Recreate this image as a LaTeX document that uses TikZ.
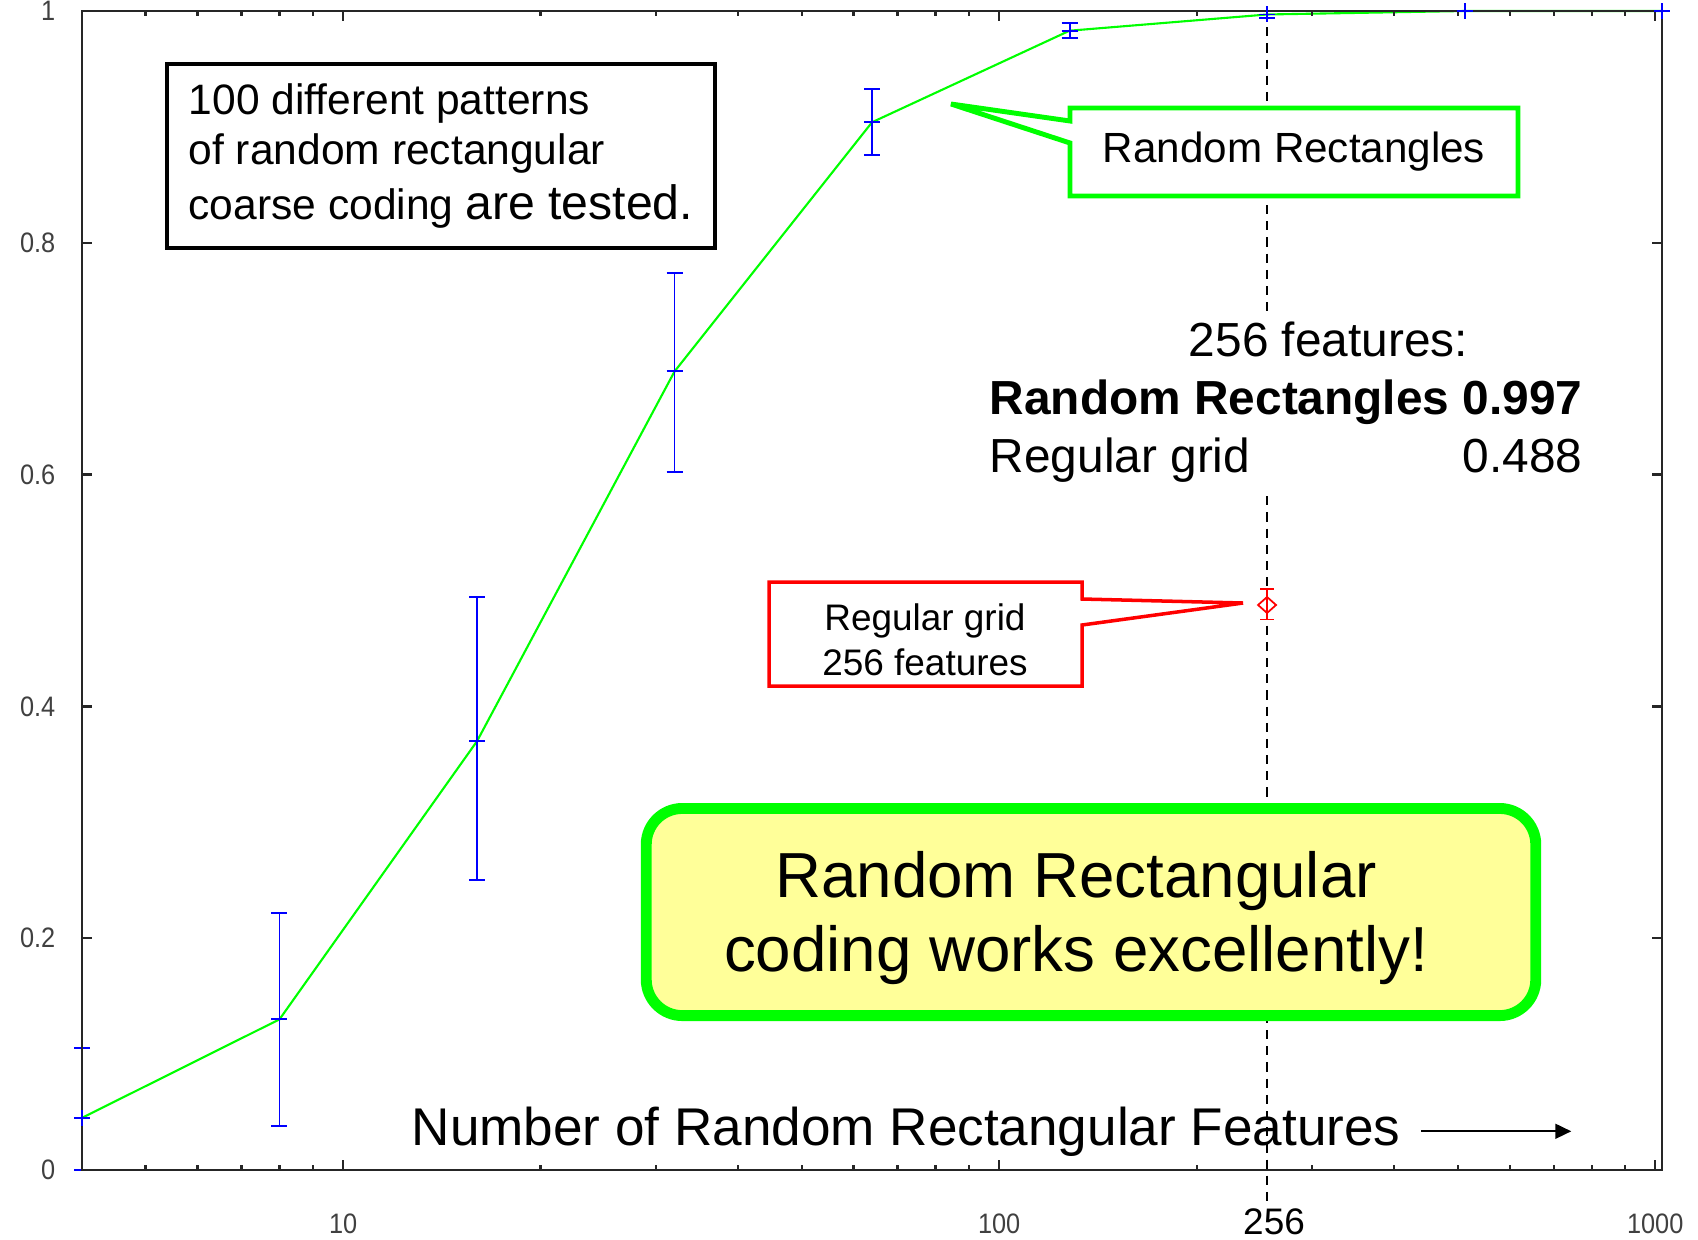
\documentclass[tikz,border=0pt]{standalone}
\usepackage{fontspec}
\setmainfont{Liberation Sans}
\newfontfamily\tickfont[FakeStretch=0.9]{Liberation Sans}
\usetikzlibrary{arrows.meta,calc}
\definecolor{plotgreen}{RGB}{0,255,0}
\definecolor{plotblue}{RGB}{0,0,255}
\definecolor{plotred}{RGB}{255,0,0}
\definecolor{notefill}{RGB}{255,255,153}

\begin{document}
\begin{tikzpicture}[x=0.01cm,y=-0.01cm,
  declare function={lx(\n)=82+284.94*ln(\n/4); vy(\v)=1170-1159*\v;},
  frameline/.style={line width=0.65pt, black!85},
  ticklabel/.style={font=\tickfont\fontsize{8}{9}\selectfont, text=black!75, inner sep=0pt},
  guide/.style={line width=0.55pt, dash pattern=on 2.6pt off 2pt},
  dataline/.style={plotgreen, line width=0.6pt},
  errbar/.style={plotblue, line width=0.55pt},
  refbar/.style={plotred, line width=0.5pt},
  notebox/.style={draw=black, line width=1pt, fill=white, minimum width=5.48cm,
    minimum height=1.84cm, inner sep=0pt,
    align=left, font=\fontsize{12.1}{14.2}\selectfont},
  callG/.style={draw=plotgreen, line width=1.4pt, fill=white},
  callR/.style={draw=plotred, line width=1pt, fill=white},
  verdictbox/.style={draw=plotgreen, line width=3.1pt, fill=notefill,
    rounded corners=0.36cm, minimum width=8.89cm, minimum height=2.07cm, inner sep=0pt},
  xarrow/.style={line width=0.5pt, -{Triangle[length=0.16cm,width=0.15cm]}}]

\useasboundingbox (0,0) rectangle (1698,1239);
\fill[white] (0,0) rectangle (1698,1239);

% vertical guide at 256 features
\draw[guide] ({lx(256)},11) -- ({lx(256)},1207);

% mean accuracy curve
\draw[dataline] ({lx(4)},{vy(0.045)}) -- ({lx(8)},{vy(0.130)}) -- ({lx(16)},{vy(0.370)})
  -- ({lx(32)},{vy(0.689)}) -- ({lx(64)},{vy(0.904)}) -- ({lx(128)},{vy(0.983)})
  -- ({lx(256)},{vy(0.997)}) -- ({lx(512)},{vy(1)}) -- ({lx(1024)},{vy(1)});

% error bars
\foreach \n/\lo/\hi in {4/0/0.105, 8/0.038/0.222, 16/0.250/0.494, 32/0.602/0.774,
    64/0.876/0.933, 128/0.977/0.990, 256/0.994/1.0} {
  \draw[errbar] ({lx(\n)},{vy(\lo)}) -- ({lx(\n)},{vy(\hi)});
  \draw[errbar] ({lx(\n)-8},{vy(\lo)}) -- ({lx(\n)+8},{vy(\lo)});
  \draw[errbar] ({lx(\n)-8},{vy(\hi)}) -- ({lx(\n)+8},{vy(\hi)});
}

% plot frame
\draw[frameline] (82,11) rectangle (1662,1170);
\foreach \v [count=\i] in {0,0.2,0.4,0.6,0.8,1} {
  \draw[frameline] (82,{vy(\v)}) -- ++(10,0);
  \draw[frameline] (1662,{vy(\v)}) -- ++(-10,0);
  \node[ticklabel, anchor=east] (ylab\i) at (56,{vy(\v)}) {\v};
}
\foreach \n in {5,6,7,8,9,20,30,40,50,60,70,80,90,200,300,400,500,600,700,800,900} {
  \draw[frameline] ({lx(\n)},1170) -- ++(0,-5);
  \draw[frameline] ({lx(\n)},11) -- ++(0,5);
}
\foreach \n in {10,100,1000} {
  \draw[frameline] ({lx(\n)},1170) -- ++(0,-10);
  \draw[frameline] ({lx(\n)},11) -- ++(0,10);
  \node[ticklabel] (xlab\n) at ({lx(\n)},1224) {\n};
}

% point markers
\foreach \n/\v in {4/0.045, 8/0.130, 16/0.370, 32/0.689, 64/0.904, 128/0.983,
    256/0.997, 512/1, 1024/1} {
  \draw[errbar] ({lx(\n)-8},{vy(\v)}) -- ({lx(\n)+8},{vy(\v)});
  \draw[errbar] ({lx(\n)},{vy(\v)-8}) -- ({lx(\n)},{vy(\v)+8});
}

% regular grid result
\draw[refbar] ({lx(256)},{vy(0.475)}) -- ({lx(256)},{vy(0.501)});
\draw[refbar] ({lx(256)-7},{vy(0.475)}) -- ({lx(256)+7},{vy(0.475)});
\draw[refbar] ({lx(256)-7},{vy(0.501)}) -- ({lx(256)+7},{vy(0.501)});
\draw[refbar] ({lx(256)-9},{vy(0.4875)}) -- ({lx(256)},{vy(0.4875)-8})
  -- ({lx(256)+9},{vy(0.4875)}) -- ({lx(256)},{vy(0.4875)+8}) -- cycle;

% description of the experiment
\node[notebox, anchor=north west] (testnote) at (165,62)
  {100 different patterns\\of random rectangular\\[1.4pt]coarse coding {\fontsize{13.7}{16}\selectfont are tested.}};

% callout for the curve
\coordinate (gNW) at (1070,108);
\coordinate (gNE) at (1518,108);
\coordinate (gSE) at (1518,196);
\coordinate (gSW) at (1070,196);
\coordinate (gB) at (1070,143);
\coordinate (gtip) at (951,104);
\coordinate (gA) at (1070,121);
\draw[callG] (gNW) -- (gNE) -- (gSE) -- (gSW) -- (gB) -- (gtip) -- (gA) -- cycle;
\node[font=\fontsize{12}{14}\selectfont] (rrlabel) at (1294,152) {Random Rectangles};

% summary of the values at 256 features
\node[fill=white, anchor=west, inner xsep=0.14cm, inner ysep=0.02cm,
  font=\fontsize{13.6}{16.4}\selectfont] (summary) at (975,403)
  {\begin{tabular}{@{}l@{}r@{}}
    \multicolumn{2}{@{}l@{}}{\hspace*{1.99cm}256 features:}\\
    \textbf{Random Rectangles} & \textbf{\ 0.997}\\
    Regular grid & 0.488
  \end{tabular}};

% callout for the regular grid point
\coordinate (rNW) at (769,582);
\coordinate (rNE) at (1082,582);
\coordinate (rA) at (1082,599);
\coordinate (rtip) at (1243,603);
\coordinate (rB) at (1082,625);
\coordinate (rSE) at (1082,686);
\coordinate (rSW) at (769,686);
\draw[callR] (rNW) -- (rNE) -- (rA) -- (rtip) -- (rB) -- (rSE) -- (rSW) -- cycle;
\node[align=center, font=\fontsize{10.5}{12.8}\selectfont] (rglabel) at (925,640)
  {Regular grid\\256 features};

% conclusion
\node[verdictbox] (verdict) at (1091,912) {};
\node[align=center, inner sep=0pt, font=\fontsize{18.1}{21.3}\selectfont] (verdicttext)
  at (1076,918) {Random Rectangular\\coding works excellently!};

% axis title and direction arrow
\node[font=\fontsize{15.1}{18}\selectfont, anchor=base west, inner sep=0pt] (xtitle)
  at (411,1145) {Number of Random Rectangular Features};
\draw[xarrow] ([xshift=0.2cm]xtitle.east) -- ([xshift=1.7cm]xtitle.east);

\node[font=\fontsize{10.5}{12}\selectfont, inner sep=0pt] (featlabel) at (1274,1222) {256};
\end{tikzpicture}
\end{document}
